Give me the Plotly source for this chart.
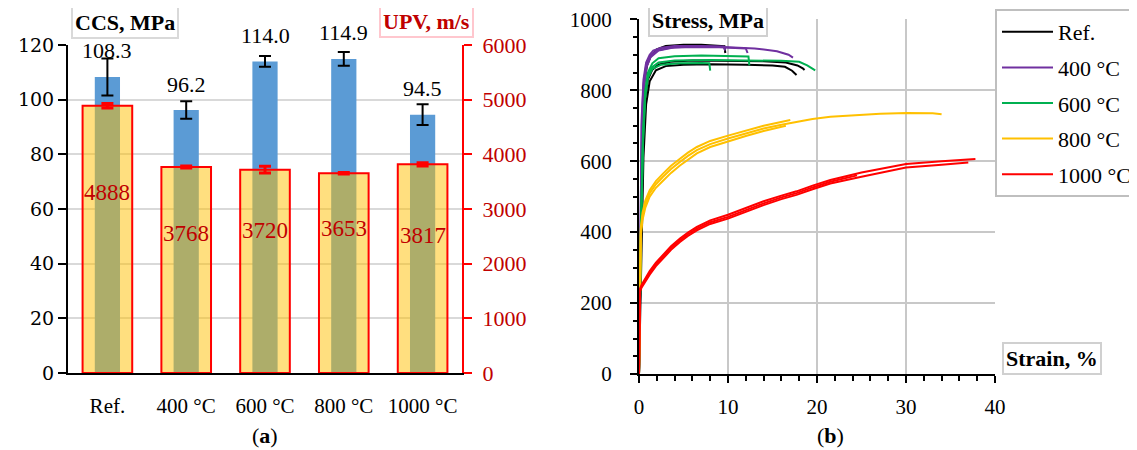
import plotly.graph_objects as go

W, H = 1137, 450
OX, OY = 8, 8  # page body margin offset
FONT = "Liberation Serif"

# ---------------- Panel (a) data ----------------
categories = ["Ref.", "400 °C", "600 °C", "800 °C", "1000 °C"]
ccs = [108.3, 96.2, 114.0, 114.9, 94.5]
ccs_err = [6.8, 3.2, 2.0, 2.5, 3.8]
upv = [4888, 3768, 3720, 3653, 3817]
upv_err = [40, 20, 60, 15, 30]
ccs_labels = ["108.3", "96.2", "114.0", "114.9", "94.5"]
upv_labels = ["4888", "3768", "3720", "3653", "3817"]
upv_label_y = [3300, 2560, 2600, 2650, 2520]

# ---------------- Panel (b) data ----------------
ref1_x = [0, 0.2, 0.4, 0.6, 0.9, 1.3, 2.0, 3.0, 5.0, 7.0, 9.0, 9.6, 9.7]
ref1_y = [0, 420, 700, 820, 870, 895, 915, 925, 928, 928, 926, 924, 905]
ref2_x = [0, 0.2, 0.45, 0.7, 1.0, 1.5, 2.2, 3.5, 6, 10, 14, 16.5, 17.8, 18.4, 18.6]
ref2_y = [0, 350, 640, 780, 830, 858, 872, 880, 884, 884, 882, 878, 870, 862, 857]
ref3_x = [0, 0.25, 0.5, 0.8, 1.2, 1.9, 3.0, 5, 8, 12, 15, 16.4, 17.2, 17.7]
ref3_y = [0, 330, 610, 760, 825, 856, 868, 872, 873, 872, 870, 866, 855, 843]

t400_1_x = [0, 0.15, 0.3, 0.5, 0.8, 1.2, 1.6, 2.5, 4, 7, 10, 13, 15.5, 16.8, 17.3]
t400_1_y = [0, 450, 720, 830, 878, 900, 912, 920, 925, 925, 922, 918, 910, 900, 892]
t400_2_x = [0, 0.15, 0.3, 0.5, 0.8, 1.2, 2.0, 3.5, 6, 9, 12.0, 12.2]
t400_2_y = [0, 430, 700, 815, 870, 895, 912, 920, 922, 921, 918, 905]
t400_3_x = [0, 0.18, 0.35, 0.55, 0.85, 1.3, 2.2, 4, 7, 9.5, 9.7]
t400_3_y = [0, 420, 690, 805, 865, 893, 912, 921, 924, 923, 912]

t600_1_x = [0, 0.2, 0.45, 0.7, 1.0, 1.5, 2.2, 4, 7, 10, 12.3, 12.4]
t600_1_y = [0, 400, 680, 800, 850, 876, 890, 896, 898, 897, 895, 870]
t600_2_x = [0, 0.2, 0.45, 0.7, 1.0, 1.5, 2.2, 4, 8, 12, 16, 18.0, 18.9, 19.8]
t600_2_y = [0, 380, 660, 790, 840, 866, 878, 884, 885, 884, 883, 880, 870, 856]
t600_3_x = [0, 0.2, 0.45, 0.7, 1.0, 1.5, 2.5, 4.5, 7.0, 7.9, 8.0]
t600_3_y = [0, 370, 650, 780, 835, 860, 872, 876, 877, 876, 855]

t800_1_x = [0, 0.1, 0.2, 0.4, 0.7, 1.2, 1.9, 2.7, 3.6, 4.6, 5.5, 6.5, 8, 10, 12, 14, 16, 17.7, 19.5, 21.5, 25, 27.1, 30.1, 33.0, 34.0]
t800_1_y = [0, 300, 400, 445, 478, 510, 535, 556, 578, 598, 615, 631, 648, 664, 679, 692, 703, 711, 719, 725, 731, 734, 736, 735, 732]
t800_2_x = [0, 0.1, 0.2, 0.4, 0.7, 1.2, 1.9, 2.7, 3.6, 4.6, 5.5, 6.5, 8, 10, 12, 14, 16.5]
t800_2_y = [0, 290, 390, 435, 468, 500, 525, 545, 567, 588, 605, 622, 640, 656, 671, 685, 700]
t800_3_x = [0, 0.1, 0.2, 0.4, 0.7, 1.2, 1.9, 2.7, 3.6, 4.6, 5.5, 6.5, 8, 10, 12, 14, 17.0]
t800_3_y = [0, 310, 410, 455, 488, 518, 544, 565, 587, 607, 624, 640, 657, 672, 687, 700, 716]

t1000_1_x = [0, 0.05, 0.1, 0.3, 0.7, 1.2, 1.9, 2.7, 3.6, 4.6, 5.5, 6.5, 8, 10, 12, 14, 16, 17.7, 19.5, 21.5, 25, 28, 30, 34, 37.8]
t1000_1_y = [0, 150, 240, 252, 270, 290, 314, 336, 360, 382, 399, 415, 433, 449, 469, 487, 503, 515, 531, 547, 568, 583, 592, 600, 606]
t1000_2_x = [0, 0.05, 0.1, 0.3, 0.7, 1.2, 1.9, 2.7, 3.6, 4.6, 5.5, 6.5, 8, 10, 12, 14, 16, 17.7, 19.5, 21.5, 25, 28, 30, 34, 37.0]
t1000_2_y = [0, 145, 232, 244, 261, 280, 304, 326, 350, 372, 389, 405, 423, 438, 458, 476, 493, 505, 521, 537, 556, 572, 582, 590, 596]
t1000_3_x = [0, 0.05, 0.1, 0.3, 0.7, 1.2, 1.9, 2.7, 3.6, 4.6, 5.5, 6.5, 8, 10, 12, 14, 16, 17.7, 19.5, 21.5, 24.5]
t1000_3_y = [0, 148, 236, 248, 266, 285, 309, 331, 355, 377, 394, 410, 428, 443, 463, 481, 498, 510, 526, 542, 560]

series_b = [
    ("Ref.", "#000000", [(ref1_x, ref1_y), (ref2_x, ref2_y), (ref3_x, ref3_y)]),
    ("400 °C", "#7030A0", [(t400_1_x, t400_1_y), (t400_2_x, t400_2_y), (t400_3_x, t400_3_y)]),
    ("600 °C", "#00B050", [(t600_1_x, t600_1_y), (t600_2_x, t600_2_y), (t600_3_x, t600_3_y)]),
    ("800 °C", "#FFC000", [(t800_1_x, t800_1_y), (t800_2_x, t800_2_y), (t800_3_x, t800_3_y)]),
    ("1000 °C", "#FF0000", [(t1000_1_x, t1000_1_y), (t1000_2_x, t1000_2_y), (t1000_3_x, t1000_3_y)]),
]

fig = go.Figure()

# Panel (a) bars
fig.add_trace(go.Bar(
    x=categories, y=ccs, width=0.32, xaxis="x", yaxis="y",
    marker=dict(color="#5B9BD5", line=dict(width=0)),
    error_y=dict(type="data", array=ccs_err, color="black", thickness=2, width=6),
    showlegend=False, hoverinfo="skip"))
fig.add_trace(go.Bar(
    x=categories, y=upv, width=0.63, xaxis="x", yaxis="y2",
    marker=dict(color="rgba(255,192,0,0.5)", line=dict(color="#FF0000", width=2)),
    error_y=dict(type="data", array=upv_err, color="#FF0000", thickness=3, width=6),
    showlegend=False, hoverinfo="skip"))

# Panel (b) curves
for name, color, curves in series_b:
    for i, (xs, ys) in enumerate(curves):
        fig.add_trace(go.Scatter(
            x=xs, y=ys, mode="lines", xaxis="x2", yaxis="y3",
            line=dict(color=color, width=2),
            name=name, legendgroup=name, showlegend=(i == 0), hoverinfo="skip"))

def px(x):
    return (x - OX) / W

def py(y):
    return 1 - (y - OY) / H

annotations = []
for c, v, t in zip(categories, ccs, ccs_labels):
    annotations.append(dict(x=c, y=v, xref="x", yref="y", text=t, showarrow=False,
                            yshift=26, xanchor="center", yanchor="middle",
                            font=dict(family=FONT, size=22, color="black")))
for c, v, t in zip(categories, upv_label_y, upv_labels):
    annotations.append(dict(x=c, y=v, xref="x", yref="y2", text=t, showarrow=False,
                            xanchor="center", yanchor="middle",
                            font=dict(family=FONT, size=23, color="#C00000")))

box_labels = [
    ("<b>CCS, MPa</b>", 125, 22.5, "black", "#D9D9D9"),
    ("<b>UPV, m/s</b>", 426, 21.5, "#C00000", "#FFC7CE"),
    ("<b>Stress, MPa</b>", 707.5, 21, "black", "#D0D0D0"),
    ("<b>Strain, %</b>", 1052, 358.5, "black", "#D0D0D0"),
]
for t, x0, y0, col, bcol in box_labels:
    annotations.append(dict(x=px(x0), y=py(y0), xref="paper", yref="paper", text=t,
                            showarrow=False, bgcolor="white", bordercolor=bcol,
                            borderwidth=2, borderpad=2, xanchor="center", yanchor="middle",
                            font=dict(family=FONT, size=22, color=col)))

annotations.append(dict(x=px(265), y=py(435), xref="paper", yref="paper", text="(<b>a</b>)",
                        showarrow=False, xanchor="center", yanchor="middle",
                        font=dict(family=FONT, size=22, color="black")))
annotations.append(dict(x=px(830), y=py(435), xref="paper", yref="paper", text="(<b>b</b>)",
                        showarrow=False, xanchor="center", yanchor="middle",
                        font=dict(family=FONT, size=22, color="black")))

fig.update_layout(
    width=W, height=H,
    margin=dict(l=0, r=0, t=0, b=0, autoexpand=False),
    paper_bgcolor="white", plot_bgcolor="white",
    barmode="overlay",
    font=dict(family=FONT, size=21, color="black"),
    xaxis=dict(domain=[px(68), px(462)], anchor="y", type="category", automargin=False,
               range=[-0.5, 4.5], showline=True, linecolor="black", linewidth=2,
               ticks="", showgrid=False, ticklabelstandoff=13, ticklabeloverflow="allow",
               tickfont=dict(family=FONT, size=21, color="black")),
    yaxis=dict(domain=[py(373), py(45)], anchor="x", range=[0, 120], dtick=20, automargin=False,
               showline=True, linecolor="black", linewidth=2, ticks="outside",
               ticklen=8, tickwidth=2, tickcolor="black", showgrid=True,
               gridcolor="#D9D9D9", gridwidth=1.5, zeroline=False, ticklabeloverflow="allow",
               tickfont=dict(family="DejaVu Serif", size=19, color="black")),
    yaxis2=dict(overlaying="y", anchor="x", side="right", range=[0, 6000], dtick=1000, automargin=False,
                showline=True, linecolor="#FF0000", linewidth=2, ticks="outside",
                ticklen=8, tickwidth=2, tickcolor="#FF0000", showgrid=False,
                zeroline=False, ticklabelstandoff=6, ticklabeloverflow="allow",
                tickfont=dict(family=FONT, size=22, color="#C00000")),
    xaxis2=dict(domain=[px(639), px(995)], anchor="y3", range=[0, 40], dtick=10, automargin=False,
                showline=True, linecolor="black", linewidth=2, ticks="outside",
                ticklen=7, tickwidth=2, tickcolor="black", ticklabelstandoff=6,
                ticklabeloverflow="allow",
                minor=dict(dtick=2, ticks="outside", ticklen=5, tickwidth=2, tickcolor="black", showgrid=False),
                showgrid=True, gridcolor="#C8C8C8", gridwidth=1.5, zeroline=False,
                tickfont=dict(family=FONT, size=21, color="black")),
    yaxis3=dict(domain=[py(374), py(19.3)], anchor="x2", range=[0, 1000], dtick=200, automargin=False,
                showline=True, linecolor="black", linewidth=2, ticks="outside",
                ticklen=7, tickwidth=2, tickcolor="black",
                minor=dict(dtick=50, ticks="outside", ticklen=4, tickwidth=2, tickcolor="black", showgrid=False),
                showgrid=True, gridcolor="#C8C8C8", gridwidth=1.5, zeroline=False,
                ticklabelstandoff=14, ticklabeloverflow="allow",
                tickfont=dict(family=FONT, size=21, color="black")),
    legend=dict(x=px(995), y=py(9), xanchor="left", yanchor="top",
                bgcolor="white", bordercolor="#BFBFBF", borderwidth=2,
                font=dict(family=FONT, size=22, color="black"),
                tracegroupgap=4, itemwidth=51),
    annotations=annotations,
)

fig.write_html("out.html")
